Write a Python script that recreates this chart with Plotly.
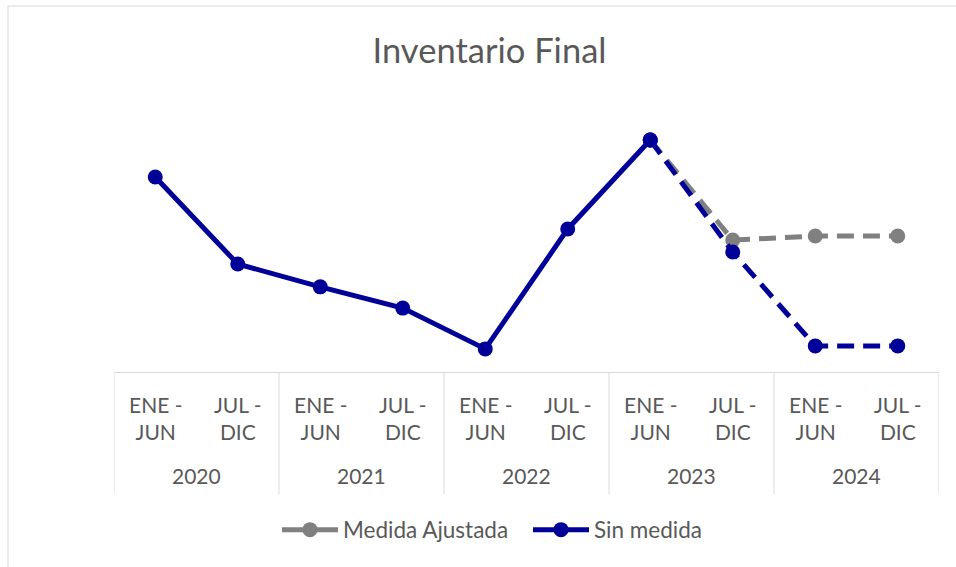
import plotly.graph_objects as go

# ---- data ----
years = ["2020", "2021", "2022", "2023", "2024"]
halves = ["ENE -<br>JUN", "JUL -<br>DIC"]
periods = [h for y in years for h in halves]
sin_medida = [71.7, 39.7, 31.3, 23.5, 8.5, 52.6, 85.3, 44.1, 9.6, 9.6]
medida_ajustada = [None, None, None, None, None, None, 85.3, 48.5, 50.0, 50.0]
n_real = 7  # periods with real (solid) data

x = list(range(len(periods)))
NAVY = "#000099"
GRAY = "#808080"
FONT = "Lato"
TXT = "#595959"
DASH = "17px,9px"

solid_sin = [v if i < n_real else None for i, v in enumerate(sin_medida)]
dash_sin = [v if i >= n_real - 1 else None for i, v in enumerate(sin_medida)]
gray_solid = [v if i == n_real - 1 else None for i, v in enumerate(medida_ajustada)]

fig = go.Figure()
fig.add_trace(go.Scatter(x=x, y=gray_solid, mode="lines+markers", name="Medida Ajustada",
                         line=dict(color=GRAY, width=5), marker=dict(size=15, color=GRAY),
                         legendgroup="g"))
fig.add_trace(go.Scatter(x=x, y=medida_ajustada, mode="lines+markers", showlegend=False,
                         line=dict(color=GRAY, width=5, dash=DASH), marker=dict(size=15, color=GRAY),
                         legendgroup="g"))
fig.add_trace(go.Scatter(x=x, y=solid_sin, mode="lines+markers", name="Sin medida",
                         line=dict(color=NAVY, width=5), marker=dict(size=15, color=NAVY),
                         legendgroup="s"))
fig.add_trace(go.Scatter(x=x, y=dash_sin, mode="lines+markers", showlegend=False,
                         line=dict(color=NAVY, width=5, dash=DASH), marker=dict(size=15, color=NAVY),
                         legendgroup="s"))

# category axis labels
ann = []
for i, p in enumerate(periods):
    ann.append(dict(x=i, y=-0.168, xref="x", yref="paper", text=p, showarrow=False,
                    font=dict(family=FONT, size=21, color=TXT), yanchor="middle", xanchor="center"))
for k, yv in enumerate(years):
    ann.append(dict(x=2 * k + 0.5, y=-0.382, xref="x", yref="paper", text=yv, showarrow=False,
                    font=dict(family=FONT, size=21, color=TXT), yanchor="middle", xanchor="center"))

shapes = []
for k in range(len(years) + 1):
    shapes.append(dict(type="line", xref="x", yref="paper", x0=2 * k - 0.5, x1=2 * k - 0.5,
                       y0=0, y1=-0.449, line=dict(color="#d9d9d9", width=1)))
# chart border
shapes.append(dict(type="rect", xref="paper", yref="paper", x0=(8 - 114) / 825, x1=1.2,
                   y0=-0.9, y1=(372 - 6) / 272, line=dict(color="#d9d9d9", width=1),
                   layer="below"))

fig.update_layout(
    width=956, height=567,
    margin=dict(l=114, r=17, t=100, b=195),
    paper_bgcolor="white", plot_bgcolor="white",
    title=dict(text="Inventario Final", x=489.5 / 956, xref="container", xanchor="center",
               y=1 - 51 / 567, yref="container", yanchor="middle",
               font=dict(family=FONT, size=34.5, color=TXT)),
    xaxis=dict(range=[-0.5, len(periods) - 0.5], showticklabels=False, ticks="",
               showgrid=False, zeroline=False, showline=True, linecolor="#d9d9d9", linewidth=1),
    yaxis=dict(range=[0, 100], visible=False),
    showlegend=True,
    legend=dict(orientation="h", xref="container", yref="container", x=528 / 956,
                y=1 - 530 / 567, xanchor="center", yanchor="middle",
                font=dict(family=FONT, size=22.5, color=TXT), itemwidth=56,
                entrywidth=180, traceorder="normal"),
    annotations=ann, shapes=shapes,
)
fig.write_html("out.html", config={"displayModeBar": False},
               post_script="document.body.style.margin='0';")
